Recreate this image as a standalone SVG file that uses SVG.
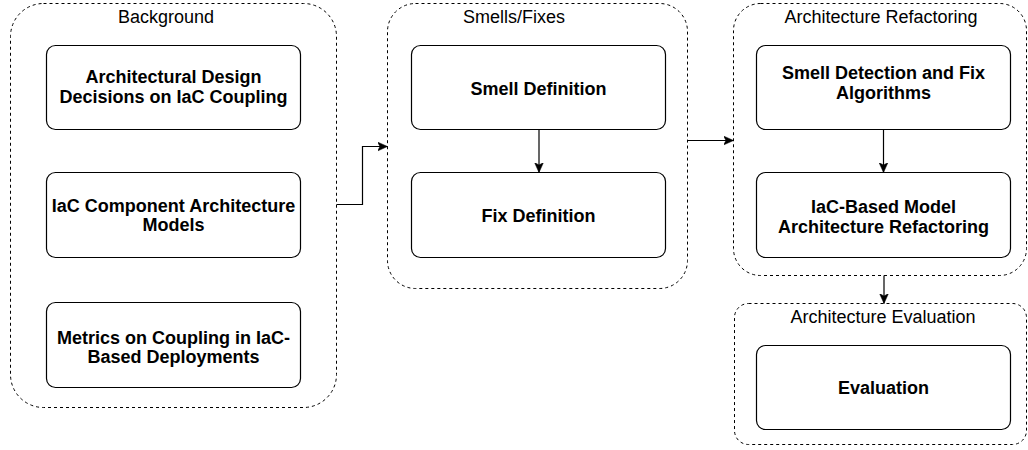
<svg xmlns="http://www.w3.org/2000/svg" width="1028" height="450" viewBox="0 0 1028 450">
  <style>
    .group { fill: #ffffff; stroke: #000000; stroke-width: 1; stroke-dasharray: 3 3; }
    .box { fill: #ffffff; stroke: #000000; stroke-width: 1.2; }
    .title { font-family: "Liberation Sans", Arial, Helvetica, sans-serif; font-size: 18px; fill: #000000; text-anchor: middle; }
    .label { font-family: "Liberation Sans", Arial, Helvetica, sans-serif; font-size: 18px; font-weight: bold; fill: #000000; text-anchor: middle; }
    .edge { fill: none; stroke: #000000; stroke-width: 1.2; marker-end: url(#arrow); }
  </style>
  <defs>
    <marker id="arrow" markerUnits="userSpaceOnUse" markerWidth="11" markerHeight="10" refX="10" refY="5" orient="auto">
      <path d="M0,0.5 L10,5 L0,9.5 L2.5,5 Z" fill="#000000" stroke="#000000" stroke-width="0.5"/>
    </marker>
  </defs>
  <rect width="1028" height="450" fill="#ffffff"/>

  <g id="background">
    <rect class="group" x="10.5" y="3.5" width="326" height="404" rx="33" ry="33"/>
    <text class="title" x="166" y="23">Background</text>
  </g>
  <g id="node-design-decisions">
    <rect class="box" x="46.5" y="45.5" width="254" height="84" rx="9" ry="9"/>
    <text class="label" x="173.5" y="83">Architectural Design</text>
    <text class="label" x="173.5" y="102.5">Decisions on IaC Coupling</text>
  </g>
  <g id="node-component-models">
    <rect class="box" x="46.5" y="172.5" width="254" height="85" rx="9" ry="9"/>
    <text class="label" x="173.5" y="212">IaC Component Architecture</text>
    <text class="label" x="173.5" y="230.5">Models</text>
  </g>
  <g id="node-metrics">
    <rect class="box" x="46.5" y="302.5" width="254" height="85" rx="9" ry="9"/>
    <text class="label" x="173.5" y="344">Metrics on Coupling in IaC-</text>
    <text class="label" x="173.5" y="362.5">Based Deployments</text>
  </g>

  <g id="smells-fixes">
    <rect class="group" x="387.5" y="3.5" width="300" height="285" rx="28" ry="28"/>
    <text class="title" x="514" y="23">Smells/Fixes</text>
  </g>
  <g id="node-smell-definition">
    <rect class="box" x="411.5" y="45.5" width="254" height="84" rx="9" ry="9"/>
    <text class="label" x="538.5" y="95">Smell Definition</text>
  </g>
  <g id="node-fix-definition">
    <rect class="box" x="411.5" y="172.5" width="254" height="85" rx="9" ry="9"/>
    <text class="label" x="538.5" y="221.5">Fix Definition</text>
  </g>

  <g id="architecture-refactoring">
    <rect class="group" x="733.5" y="3.5" width="293" height="272" rx="27" ry="27"/>
    <text class="title" x="881" y="23">Architecture Refactoring</text>
  </g>
  <g id="node-detection-algorithms">
    <rect class="box" x="756.5" y="45.5" width="254" height="84" rx="9" ry="9"/>
    <text class="label" x="883.5" y="79">Smell Detection and Fix</text>
    <text class="label" x="883.5" y="99">Algorithms</text>
  </g>
  <g id="node-model-refactoring">
    <rect class="box" x="756.5" y="172.5" width="254" height="85" rx="9" ry="9"/>
    <text class="label" x="883.5" y="212.5">IaC-Based Model</text>
    <text class="label" x="883.5" y="232.5">Architecture Refactoring</text>
  </g>

  <g id="architecture-evaluation">
    <rect class="group" x="734.5" y="303.5" width="292" height="141" rx="14" ry="14"/>
    <text class="title" x="883" y="323">Architecture Evaluation</text>
  </g>
  <g id="node-evaluation">
    <rect class="box" x="756.5" y="345.5" width="254" height="84" rx="9" ry="9"/>
    <text class="label" x="883.5" y="394">Evaluation</text>
  </g>

  <g id="connectors">
    <path class="edge" d="M336.5,204.5 H362.5 V146.5 H387.5"/>
    <path class="edge" d="M539,129.5 V172.5"/>
    <path class="edge" d="M687.5,140.5 H733.5"/>
    <path class="edge" d="M883.5,129.5 V172.5"/>
    <path class="edge" d="M884,275.5 V303.5"/>
  </g>
</svg>
